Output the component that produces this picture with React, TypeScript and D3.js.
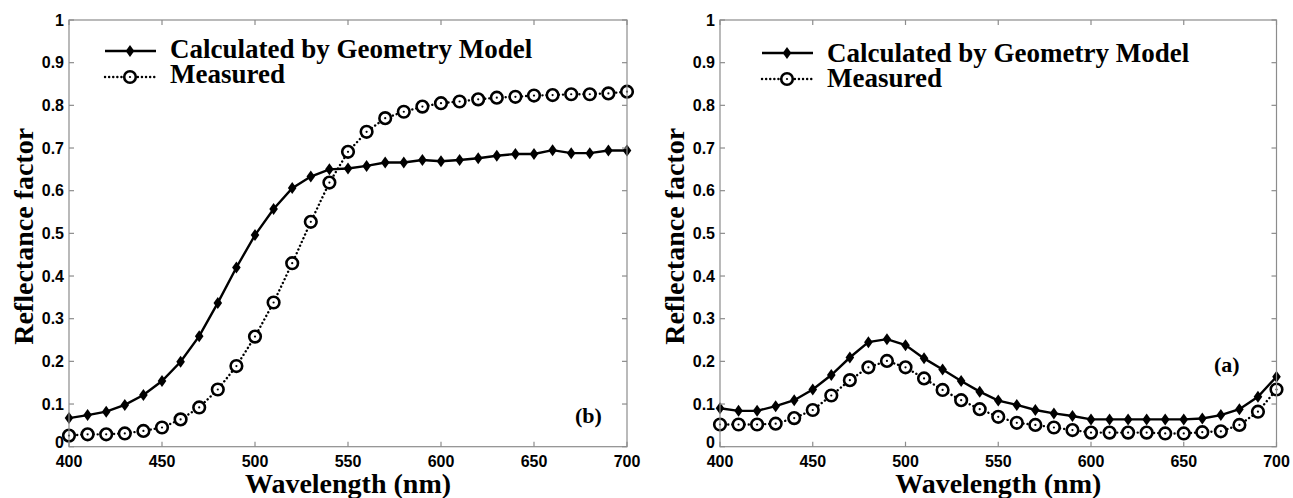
import React from 'react'
import * as d3 from 'd3'

// wavelengths (nm) shared by every series
const wavelengths = [400, 410, 420, 430, 440, 450, 460, 470, 480, 490, 500, 510, 520, 530, 540, 550,
  560, 570, 580, 590, 600, 610, 620, 630, 640, 650, 660, 670, 680, 690, 700]

// panel (b)
const calculatedB = [0.067, 0.074, 0.082, 0.098, 0.121, 0.154, 0.199, 0.259, 0.337, 0.420, 0.496, 0.557,
  0.606, 0.633, 0.650, 0.652, 0.658, 0.666, 0.666, 0.672, 0.669, 0.672, 0.676, 0.682, 0.686, 0.686,
  0.695, 0.688, 0.688, 0.694, 0.694]
const measuredB = [0.026, 0.029, 0.029, 0.031, 0.037, 0.045, 0.064, 0.092, 0.134, 0.189, 0.258, 0.338,
  0.430, 0.527, 0.619, 0.691, 0.738, 0.770, 0.785, 0.797, 0.805, 0.809, 0.814, 0.818, 0.820, 0.823,
  0.824, 0.826, 0.826, 0.828, 0.832]

// panel (a)
const calculatedA = [0.090, 0.084, 0.084, 0.095, 0.109, 0.134, 0.168, 0.209, 0.245, 0.252, 0.238, 0.207,
  0.181, 0.154, 0.129, 0.108, 0.098, 0.086, 0.078, 0.072, 0.064, 0.064, 0.064, 0.064, 0.064, 0.064,
  0.066, 0.074, 0.088, 0.117, 0.164]
const measuredA = [0.052, 0.052, 0.052, 0.054, 0.067, 0.086, 0.120, 0.156, 0.186, 0.201, 0.186, 0.160,
  0.133, 0.109, 0.088, 0.070, 0.056, 0.051, 0.045, 0.039, 0.033, 0.033, 0.033, 0.033, 0.031, 0.031,
  0.034, 0.036, 0.051, 0.082, 0.134]

const xTicks = [400, 450, 500, 550, 600, 650, 700]
const yTicks = [0, 0.1, 0.2, 0.3, 0.4, 0.5, 0.6, 0.7, 0.8, 0.9, 1]
const legendLabels = ['Calculated by Geometry Model', 'Measured']

const serif = { fontFamily: "'Liberation Serif', 'Times New Roman', Times, serif", fontWeight: 700 }
const sans = { fontFamily: "'Liberation Sans', Arial, Helvetica, sans-serif", fontWeight: 700 }
const axisGrey = '#8c8c8c'

const diamondPath = 'M0,-6L4.3,0L0,6L-4.3,0Z'

function Diamond({ x, y }) {
  return <path d={diamondPath} transform={`translate(${x},${y})`} fill="#000" />
}

function Ring({ x, y }) {
  return (
    <g transform={`translate(${x},${y})`}>
      <circle r={5.8} fill="#fff" stroke="#000" strokeWidth={2.6} />
      <circle r={1.1} fill="#000" />
    </g>
  )
}

function Panel({ left, right, top, bottom, calculated, measured, tag, tagPos, legend }) {
  const x = d3.scaleLinear().domain([400, 700]).range([left, right])
  const y = d3.scaleLinear().domain([0, 1]).range([bottom, top])

  const line = d3.line<number>()
    .x((d, i) => x(wavelengths[i]))
    .y(d => y(d))

  const tickLen = 5

  return (
    <g>
      {/* series */}
      <path d={line(measured) || ''} fill="none" stroke="#000" strokeWidth={2.4}
        strokeDasharray="0.1 4" strokeLinecap="round" />
      <path d={line(calculated) || ''} fill="none" stroke="#000" strokeWidth={2.4} />
      {measured.map((v, i) => <Ring key={'m' + i} x={x(wavelengths[i])} y={y(v)} />)}
      {calculated.map((v, i) => <Diamond key={'c' + i} x={x(wavelengths[i])} y={y(v)} />)}

      {/* frame and inward ticks on all sides */}
      <rect x={left} y={top} width={right - left} height={bottom - top} fill="none"
        stroke={axisGrey} strokeWidth={1.2} />
      {xTicks.map(t => (
        <g key={'xt' + t}>
          <line x1={x(t)} x2={x(t)} y1={bottom} y2={bottom - tickLen} stroke={axisGrey} strokeWidth={1.2} />
          <line x1={x(t)} x2={x(t)} y1={top} y2={top + tickLen} stroke={axisGrey} strokeWidth={1.2} />
          <text x={x(t)} y={bottom + 20} textAnchor="middle" style={sans} fontSize={16}>{t}</text>
        </g>
      ))}
      {yTicks.map(t => (
        <g key={'yt' + t}>
          <line x1={left} x2={left + tickLen} y1={y(t)} y2={y(t)} stroke={axisGrey} strokeWidth={1.2} />
          <line x1={right} x2={right - tickLen} y1={y(t)} y2={y(t)} stroke={axisGrey} strokeWidth={1.2} />
          <text x={left - 5} y={y(t)} dy={t === 0 ? '0.1em' : '0.36em'} textAnchor="end" style={sans}
            fontSize={16}>{d3.format('~g')(t)}</text>
        </g>
      ))}

      {/* axis titles */}
      <text x={(left + right) / 2} y={bottom + 46.5} textAnchor="middle" style={serif}
        fontSize={28}>Wavelength (nm)</text>
      <text transform={`translate(${left - 36},${(top + bottom) / 2 + 3}) rotate(-90)`} textAnchor="middle"
        style={serif} fontSize={28}>Reflectance factor</text>

      {/* legend */}
      <line x1={legend.x} x2={legend.x + 51} y1={legend.y1} y2={legend.y1} stroke="#000" strokeWidth={2.4} />
      <Diamond x={legend.x + 25} y={legend.y1} />
      <line x1={legend.x} x2={legend.x + 51} y1={legend.y2} y2={legend.y2} stroke="#000" strokeWidth={2.4}
        strokeDasharray="0.1 4" strokeLinecap="round" />
      <Ring x={legend.x + 25} y={legend.y2} />
      <text x={legend.x + 65} y={legend.b1} style={serif} fontSize={27}>{legendLabels[0]}</text>
      <text x={legend.x + 65} y={legend.b2} style={serif} fontSize={27}>{legendLabels[1]}</text>

      <text x={tagPos[0]} y={tagPos[1]} style={serif} fontSize={22}>{tag}</text>
    </g>
  )
}

export default function App() {
  return (
    <svg width={1293} height={498} style={{ position: 'absolute', left: 0, top: 0, background: '#fff' }}>
      <rect width={1293} height={498} fill="#fff" />
      <Panel left={69} right={627} top={20} bottom={446.7} calculated={calculatedB} measured={measuredB}
        tag="(b)" tagPos={[575, 423]} legend={{ x: 105, y1: 51, y2: 77, b1: 58, b2: 83 }} />
      <Panel left={720} right={1276.5} top={20} bottom={446.7} calculated={calculatedA} measured={measuredA}
        tag="(a)" tagPos={[1214, 372]} legend={{ x: 762, y1: 53, y2: 79, b1: 62, b2: 87 }} />
    </svg>
  )
}
